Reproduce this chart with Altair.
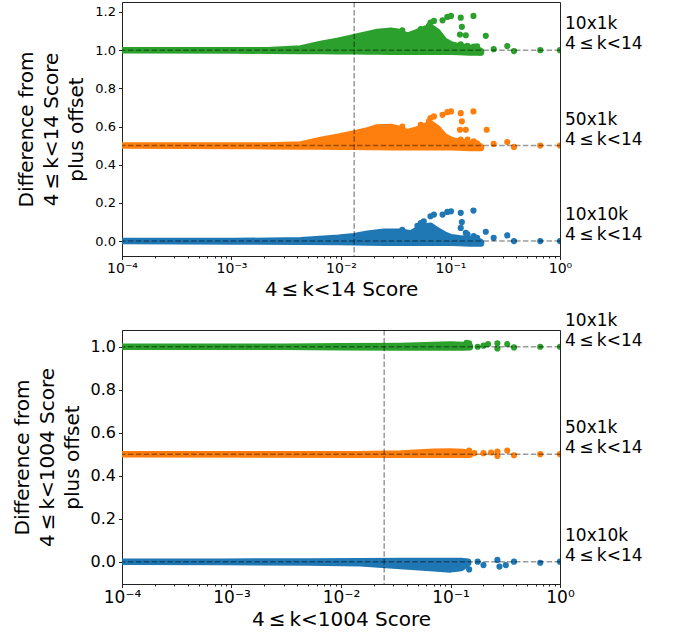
import altair as alt
import pandas as pd

# ---------------- data ----------------
SERIES = ["10x10k", "50x1k", "10x1k"]
OFFSETS = [0.0, 0.5, 1.0]
COLORS = ["#1f77b4", "#ff7f0e", "#2ca02c"]
LABEL_LINE2 = "4\u2009\u2264\u2009k<14"
TICK_LABELS = ["10\u207b\u2074", "10\u207b\u00b3", "10\u207b\u00b2", "10\u207b\u00b9", "10\u2070"]

# --- top panel (4<=k<14) : dense cloud envelopes (dot centres, relative to offset)
TOP_BLUE_ENV_X = [1e-4, 0.00106, 0.0043, 0.0095, 0.0132, 0.0175, 0.0248, 0.0352, 0.0434, 0.0499, 0.0574, 0.0661, 0.0762, 0.0877, 0.101, 0.12, 0.15, 0.175, 0.19]
TOP_BLUE_ENV_HI = [0.0, 0.0, 0.004, 0.018, 0.026, 0.039, 0.049, 0.049, 0.04, 0.06, 0.075, 0.08, 0.055, 0.035, 0.02, 0.015, 0.01, 0.005, -0.005]
TOP_BLUE_ENV_LO = [0.0, -0.002, -0.004, -0.005, -0.006, -0.007, -0.008, -0.008, -0.008, -0.008, -0.008, -0.008, -0.008, -0.008, -0.008, -0.01, -0.012, -0.013, -0.012]

TOP_ORANGE_ENV_X = [1e-4, 0.00106, 0.00213, 0.0043, 0.00654, 0.0095, 0.0132, 0.0175, 0.0215, 0.0285, 0.0328, 0.0405, 0.0499, 0.0574, 0.0661, 0.0762, 0.0877, 0.101, 0.12, 0.15, 0.175, 0.19]
TOP_ORANGE_ENV_HI = [0.0, 0.0, 0.0, 0.006, 0.03, 0.047, 0.064, 0.08, 0.095, 0.098, 0.09, 0.07, 0.085, 0.1, 0.115, 0.09, 0.05, 0.03, 0.02, 0.012, 0.005, -0.005]
TOP_ORANGE_ENV_LO = [0.0, -0.002, -0.003, -0.004, -0.005, -0.006, -0.006, -0.007, -0.007, -0.008, -0.008, -0.008, -0.008, -0.008, -0.008, -0.008, -0.008, -0.008, -0.01, -0.012, -0.013, -0.012]

TOP_GREEN_ENV_X = [1e-4, 0.00106, 0.00213, 0.0043, 0.00654, 0.0095, 0.0132, 0.0175, 0.0215, 0.0285, 0.0328, 0.0405, 0.0499, 0.0574, 0.0661, 0.0762, 0.0877, 0.101, 0.12, 0.15, 0.175, 0.19]
TOP_GREEN_ENV_HI = [0.0, 0.0, 0.0, 0.009, 0.033, 0.05, 0.068, 0.084, 0.095, 0.102, 0.097, 0.075, 0.095, 0.11, 0.12, 0.095, 0.05, 0.03, 0.02, 0.012, 0.005, -0.005]
TOP_GREEN_ENV_LO = [0.0, -0.002, -0.003, -0.004, -0.005, -0.006, -0.006, -0.007, -0.007, -0.008, -0.008, -0.008, -0.008, -0.008, -0.008, -0.008, -0.008, -0.008, -0.01, -0.012, -0.013, -0.012]

# --- top panel : sparse individual points
TOP_BLUE_PTS_X = [0.162, 0.124, 0.101, 0.0935, 0.0846, 0.0706, 0.0656, 0.057, 0.0535, 0.0499, 0.0363, 0.127, 0.124, 0.138, 0.21, 0.143, 0.163, 0.175, 0.187, 0.248, 0.33, 0.38, 0.66, 1.0]
TOP_BLUE_PTS_Y = [0.160, 0.148, 0.156, 0.153, 0.139, 0.139, 0.130, 0.104, 0.095, 0.08, 0.059, 0.10, 0.069, 0.043, 0.049, 0.035, 0.026, 0.017, -0.009, 0.017, 0.030, 0.0, 0.0, 0.0]

TOP_ORANGE_PTS_X = [0.162, 0.124, 0.101, 0.0935, 0.0846, 0.0706, 0.0656, 0.0635, 0.0535, 0.0363, 0.127, 0.138, 0.122, 0.214, 0.124, 0.143, 0.163, 0.175, 0.187, 0.248, 0.33, 0.38, 0.66, 1.0]
TOP_ORANGE_PTS_Y = [0.179, 0.170, 0.179, 0.175, 0.161, 0.153, 0.144, 0.127, 0.109, 0.10, 0.127, 0.083, 0.083, 0.083, 0.031, 0.031, 0.023, 0.012, -0.012, 0.009, 0.019, -0.007, 0.0, 0.0]

TOP_GREEN_PTS_X = [0.162, 0.124, 0.101, 0.0935, 0.0846, 0.0706, 0.0656, 0.0635, 0.0535, 0.0363, 0.127, 0.138, 0.122, 0.21, 0.124, 0.143, 0.163, 0.175, 0.187, 0.248, 0.33, 0.38, 0.66, 1.0]
TOP_GREEN_PTS_Y = [0.179, 0.170, 0.179, 0.174, 0.156, 0.153, 0.144, 0.127, 0.11, 0.104, 0.122, 0.078, 0.082, 0.075, 0.030, 0.023, 0.018, 0.02, -0.012, 0.005, 0.021, -0.005, 0.0, 0.0]

# --- bottom panel (4<=k<1004) : envelopes
BOT_BLUE_ENV_X = [1e-4, 0.0008, 0.005, 0.015, 0.035, 0.07, 0.1, 0.125, 0.145]
BOT_BLUE_ENV_HI = [0.0, 0.0, 0.001, 0.002, 0.003, 0.003, 0.003, 0.003, 0.0]
BOT_BLUE_ENV_LO = [0.0, -0.002, -0.004, -0.008, -0.02, -0.031, -0.036, -0.03, -0.008]

BOT_ORANGE_ENV_X = [1e-4, 0.014, 0.035, 0.07, 0.1, 0.13, 0.15]
BOT_ORANGE_ENV_HI = [0.0, 0.0, 0.003, 0.011, 0.013, 0.01, 0.004]
BOT_ORANGE_ENV_LO = [0.0, -0.002, -0.003, -0.003, -0.003, -0.003, -0.002]

BOT_GREEN_ENV_X = [1e-4, 0.003, 0.01, 0.035, 0.07, 0.1, 0.13, 0.15]
BOT_GREEN_ENV_HI = [0.0, 0.0, 0.002, 0.004, 0.008, 0.01, 0.008, 0.004]
BOT_GREEN_ENV_LO = [0.0, 0.0, -0.002, -0.003, -0.003, -0.003, -0.003, -0.002]

# --- bottom panel : sparse points
BOT_BLUE_PTS_X = [0.148, 0.177, 0.2, 0.268, 0.28, 0.32, 0.38, 0.66, 1.0]
BOT_BLUE_PTS_Y = [-0.036, 0.0, -0.016, 0.008, -0.023, -0.016, 0.0, -0.005, 0.0]

BOT_ORANGE_PTS_X = [0.148, 0.165, 0.2, 0.235, 0.268, 0.268, 0.33, 0.38, 0.66, 1.0]
BOT_ORANGE_PTS_Y = [0.017, 0.005, 0.005, 0.008, 0.012, -0.008, 0.017, -0.005, 0.0, 0.0]

BOT_GREEN_PTS_X = [0.14, 0.148, 0.177, 0.2, 0.22, 0.268, 0.268, 0.33, 0.38, 0.66, 1.0]
BOT_GREEN_PTS_Y = [0.018, 0.016, 0.0, 0.005, 0.012, 0.016, -0.008, 0.012, -0.003, 0.0, 0.0]

TOP_THRESHOLD = 0.0132
BOT_THRESHOLD = 0.0248

TOP_Y_DOMAIN = [-0.078, 1.252]
BOT_Y_DOMAIN = [-0.104, 1.078]
TOP_Y_TICKS = [0.0, 0.2, 0.4, 0.6, 0.8, 1.0, 1.2]
BOT_Y_TICKS = [0.0, 0.2, 0.4, 0.6, 0.8, 1.0]

X_MAJOR = [1e-4, 1e-3, 1e-2, 1e-1, 1.0]
X_MINOR = [m * d for d in [1e-4, 1e-3, 1e-2, 1e-1] for m in range(2, 10)]

FONT = "DejaVu Sans"


def make_panel(envs, pts, threshold, y_domain, y_ticks, y_title, x_title, x_label_fs, y_label_fs):
    env_rows, pt_rows = [], []
    for s, off, (ex, eh, el), (px, py) in zip(SERIES, OFFSETS, envs, pts):
        for a, b, c in zip(ex, eh, el):
            env_rows.append({"series": s, "x": a, "y": off + b, "y2": off + c})
        for a, b in zip(px, py):
            pt_rows.append({"series": s, "x": a, "y": off + b})
    env_df = pd.DataFrame(env_rows)
    pt_df = pd.DataFrame(pt_rows)
    off_df = pd.DataFrame({"y": OFFSETS})
    thr_df = pd.DataFrame({"x": [threshold]})
    lab_df = pd.DataFrame({"series": SERIES, "x": [1.0] * 3, "y": OFFSETS,
                           "label": [f"{s}\n{LABEL_LINE2}" for s in SERIES]})

    is_major = "abs(log(datum.value)/LN10 - round(log(datum.value)/LN10)) < 0.01"
    label_arr = "[" + ",".join(f"'{t}'" for t in TICK_LABELS) + "]"
    xscale = alt.Scale(type="log", domain=[1e-4, 1.0], nice=False)
    xaxis = alt.Axis(
        values=X_MAJOR + X_MINOR,
        labelExpr=f"{is_major} ? {label_arr}[round(log(datum.value)/LN10)+4] : ''",
        tickSize={"condition": {"test": is_major, "value": 3.5}, "value": 2},
        labelFontSize=x_label_fs, labelPadding=2, labelOverlap=False, labelFlush=False,
        title=x_title, titleFontSize=20, titlePadding=4, grid=False,
    )
    yscale = alt.Scale(domain=y_domain, nice=False, zero=False)
    yaxis = alt.Axis(
        values=y_ticks, format=".1f", labelFontSize=y_label_fs, tickSize=3.5,
        labelPadding=3, title=y_title, titleFontSize=20, titleLineHeight=25,
        titlePadding=8, grid=False,
    )
    X = alt.X("x:Q", scale=xscale, axis=xaxis)
    Y = alt.Y("y:Q", scale=yscale, axis=yaxis)
    cscale = alt.Scale(domain=SERIES, range=COLORS)
    col = alt.Color("series:N", scale=cscale, legend=None)
    stk = alt.Stroke("series:N", scale=cscale, legend=None)

    area = alt.Chart(env_df).mark_area(
        strokeWidth=6.5, strokeJoin="round", strokeCap="round", clip=True, opacity=1
    ).encode(x=X, y=Y, y2="y2:Q", color=col, stroke=stk)
    points = alt.Chart(pt_df).mark_circle(size=38, opacity=1, clip=True).encode(x=X, y=Y, color=col)
    hrules = alt.Chart(off_df).mark_rule(
        color="black", opacity=0.4, strokeDash=[5.5, 2.4], strokeWidth=1.5
    ).encode(y=Y)
    vrule = alt.Chart(thr_df).mark_rule(
        color="black", opacity=0.4, strokeDash=[5.5, 2.4], strokeWidth=1.5
    ).encode(x=X)
    labels = alt.Chart(lab_df).mark_text(
        align="left", baseline="bottom", dx=5, dy=-17, fontSize=17, lineHeight=20,
        font=FONT, color="black", lineBreak="\n"
    ).encode(x=X, y=Y, text="label:N")
    return alt.layer(area, points, hrules, vrule, labels).properties(width=438, height=254)


top = make_panel(
    [(TOP_BLUE_ENV_X, TOP_BLUE_ENV_HI, TOP_BLUE_ENV_LO),
     (TOP_ORANGE_ENV_X, TOP_ORANGE_ENV_HI, TOP_ORANGE_ENV_LO),
     (TOP_GREEN_ENV_X, TOP_GREEN_ENV_HI, TOP_GREEN_ENV_LO)],
    [(TOP_BLUE_PTS_X, TOP_BLUE_PTS_Y), (TOP_ORANGE_PTS_X, TOP_ORANGE_PTS_Y),
     (TOP_GREEN_PTS_X, TOP_GREEN_PTS_Y)],
    TOP_THRESHOLD, TOP_Y_DOMAIN, TOP_Y_TICKS,
    ["Difference from", "4\u2009\u2264\u2009k<14 Score", "plus offset"],
    "4\u2009\u2264\u2009k<14  Score", 14, 13,
)
bottom = make_panel(
    [(BOT_BLUE_ENV_X, BOT_BLUE_ENV_HI, BOT_BLUE_ENV_LO),
     (BOT_ORANGE_ENV_X, BOT_ORANGE_ENV_HI, BOT_ORANGE_ENV_LO),
     (BOT_GREEN_ENV_X, BOT_GREEN_ENV_HI, BOT_GREEN_ENV_LO)],
    [(BOT_BLUE_PTS_X, BOT_BLUE_PTS_Y), (BOT_ORANGE_PTS_X, BOT_ORANGE_PTS_Y),
     (BOT_GREEN_PTS_X, BOT_GREEN_PTS_Y)],
    BOT_THRESHOLD, BOT_Y_DOMAIN, BOT_Y_TICKS,
    ["Difference from", "4\u2009\u2264\u2009k<1004 Score", "plus offset"],
    "4\u2009\u2264\u2009k<1004 Score", 17, 16,
)

chart = alt.vconcat(top, bottom, spacing=74, bounds="flush").properties(
    padding={"left": 11, "top": 0, "right": 5, "bottom": 5},
    background="white",
).configure_view(stroke="#222", strokeWidth=1).configure_axis(
    labelFont=FONT, titleFont=FONT, labelColor="black", titleColor="black",
    domainColor="#222", tickColor="#222", titleFontWeight="normal",
).configure_text(font=FONT)

chart.save("out.html", embed_options={"renderer": "svg", "actions": False})
